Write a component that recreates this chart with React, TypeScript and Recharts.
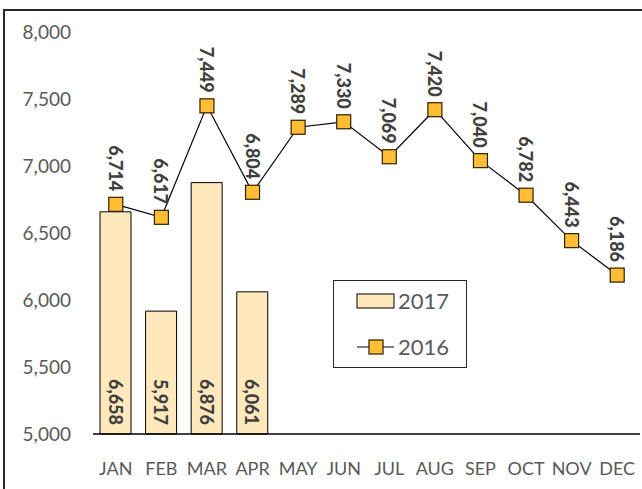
import React from 'react';
import { ComposedChart, Bar, Line, XAxis, YAxis, Legend } from 'recharts';

const months = ['JAN', 'FEB', 'MAR', 'APR', 'MAY', 'JUN', 'JUL', 'AUG', 'SEP', 'OCT', 'NOV', 'DEC'];
const sales2017 = [6658, 5917, 6876, 6061, null, null, null, null, null, null, null, null];
const sales2016 = [6714, 6617, 7449, 6804, 7289, 7330, 7069, 7420, 7040, 6782, 6443, 6186];
const yTicks = [5000, 5500, 6000, 6500, 7000, 7500, 8000];

const BAR_FILL = '#FFE8BC';
const MARKER_FILL = '#FFBE33';
const FONT = 'Lato, "Open Sans", sans-serif';

const data = months.map((m, i) => ({ month: m, y2017: sales2017[i], y2016: sales2016[i] }));

const fmt = (v: number) => v.toLocaleString('en-US');

// rotated label sitting above each line point
const LineLabel = (props: any) => {
  const { x, y, value } = props;
  if (value == null) return null;
  const ax = x;
  const ay = y - 13;
  return (
    <text
      x={ax}
      y={ay}
      transform={`rotate(90 ${ax} ${ay})`}
      textAnchor="end"
      dominantBaseline="central"
      fontFamily={FONT}
      fontWeight={900}
      fontSize={18}
      fill="#404040"
    >
      {fmt(value)}
    </text>
  );
};

// rotated label at the foot of each bar
const BarLabel = (props: any) => {
  const { x, y, width, height, value } = props;
  if (value == null) return null;
  const ax = x + width / 2;
  const ay = y + height - 9;
  return (
    <text
      x={ax}
      y={ay}
      transform={`rotate(90 ${ax} ${ay})`}
      textAnchor="end"
      dominantBaseline="central"
      fontFamily={FONT}
      fontWeight={900}
      fontSize={18}
      fill="#404040"
    >
      {fmt(value)}
    </text>
  );
};

const SquareDot = (props: any) => {
  const { cx, cy, index } = props;
  if (cx == null || cy == null) return null;
  return (
    <rect
      key={`dot-${index}`}
      x={cx - 7}
      y={cy - 7}
      width={14}
      height={14}
      fill={MARKER_FILL}
      stroke="#2b2000"
      strokeWidth={1.2}
    />
  );
};

const LegendBox = () => (
  <div
    style={{
      width: 134,
      height: 88,
      boxSizing: 'border-box',
      border: '1.5px solid #262626',
      background: '#fff',
    }}
  >
    <svg width={131} height={85}>
      <rect x={23} y={13} width={37} height={14} fill={BAR_FILL} stroke="#000" strokeWidth={1} />
      <text x={64} y={28} fontFamily={FONT} fontSize={22} fill="#595959">2017</text>
      <line x1={23} y1={66} x2={60} y2={66} stroke="#000" strokeWidth={1.2} />
      <rect x={35} y={59} width={14} height={14} fill={MARKER_FILL} stroke="#2b2000" strokeWidth={1.2} />
      <text x={64} y={74} fontFamily={FONT} fontSize={22} fill="#595959">2016</text>
    </svg>
  </div>
);

export default function App() {
  return (
    <div style={{ position: 'absolute', left: 0, top: 0, width: 642, height: 489, overflow: 'hidden', background: '#fff' }}>
      <div
        style={{
          position: 'absolute',
          left: 3,
          top: 9,
          width: 700,
          height: 600,
          border: '2px solid #262626',
        }}
      />
      <div style={{ position: 'absolute', left: 0, top: 0 }}>
        <ComposedChart width={642} height={489} data={data} margin={{ top: 32, right: 2, bottom: 0, left: 0 }}>
          <XAxis
            dataKey="month"
            height={55}
            axisLine={{ stroke: '#000', strokeWidth: 1.5 }}
            tickLine={false}
            tickMargin={22}
            tick={{ fill: '#595959', fontSize: 18, fontFamily: FONT }}
            interval={0}
          />
          <YAxis
            domain={[5000, 8000]}
            ticks={yTicks}
            width={93}
            axisLine={false}
            tickLine={false}
            tickSize={0}
            tickMargin={22}
            tickFormatter={fmt}
            tick={{ fill: '#595959', fontSize: 19, fontFamily: FONT }}
          />
          <Legend
            layout="vertical"
            align="center"
            verticalAlign="middle"
            content={<LegendBox />}
            wrapperStyle={{ position: 'absolute', left: 333, top: 280, width: 134, height: 88 }}
          />
          <Bar
            dataKey="y2017"
            name="2017"
            barSize={31}
            fill={BAR_FILL}
            stroke="#000"
            strokeWidth={1}
            isAnimationActive={false}
            label={BarLabel}
          />
          <Line
            dataKey="y2016"
            name="2016"
            stroke="#000"
            strokeWidth={1.2}
            dot={SquareDot}
            activeDot={false}
            isAnimationActive={false}
            label={LineLabel}
          />
        </ComposedChart>
      </div>
    </div>
  );
}
